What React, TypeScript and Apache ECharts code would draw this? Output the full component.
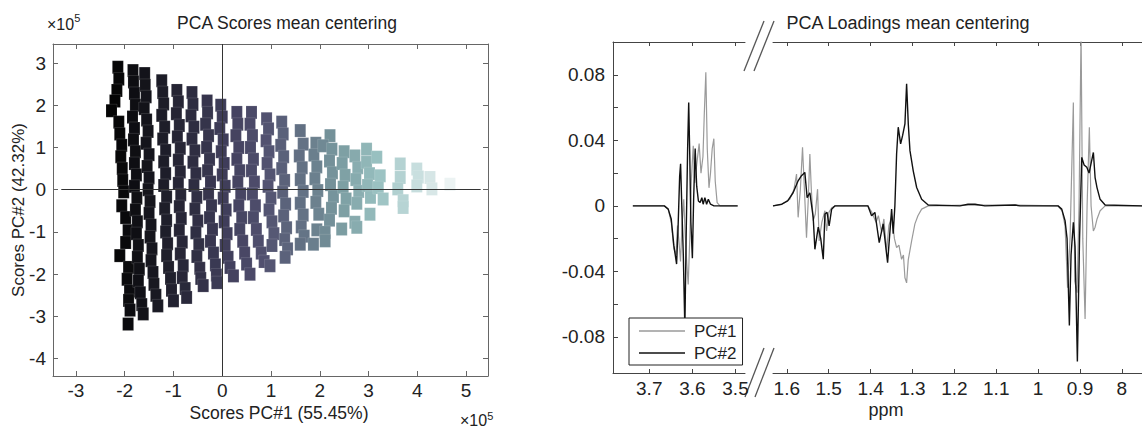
import React, { useEffect, useRef } from 'react';
import * as echarts from 'echarts';

const FONT = "'Liberation Sans', Arial, Helvetica, sans-serif";

// ---- tick values ----
const scoreXTicks = [-3, -2, -1, 0, 1, 2, 3, 4, 5];
const scoreYTicks = [-4, -3, -2, -1, 0, 1, 2, 3];
const ppmTicksLeft = [3.5, 3.6, 3.7];
const ppmTicksRight = [0.8, 0.9, 1.0, 1.1, 1.2, 1.3, 1.4, 1.5, 1.6];
const loadingTicks = [-0.08, -0.06, -0.04, -0.02, 0, 0.02, 0.04, 0.06, 0.08];
const loadingLabels = [-0.08, -0.04, 0, 0.04, 0.08];

// ---- PCA scores (x1e5) ----
const scoresBlack = [
  [-2.14, 2.9], [-2.12, 2.62], [-2.16, 2.35], [-2.2, 2.1], [-2.27, 1.87], [-2.12, 1.6], [-2.1, 1.32], [-2.06, 1.05],
  [-2.08, 0.78], [-2.05, 0.5], [-2.04, 0.22], [-2.02, -0.05], [-2.06, -0.38], [-1.98, -0.66], [-1.93, -0.97],
  [-1.98, -1.25], [-2.1, -1.56], [-1.92, -1.84], [-1.95, -2.12], [-1.9, -2.4], [-1.92, -2.62], [-1.89, -2.85], [-1.93, -3.18],
  [-1.83, 2.82], [-1.82, 2.55], [-1.8, 2.28], [-1.78, 2.0], [-1.84, 1.72], [-1.8, 1.45], [-1.82, 1.18], [-1.78, 0.9],
  [-1.8, 0.62], [-1.76, 0.35], [-1.8, 0.08], [-1.75, -0.2], [-1.78, -0.48], [-1.74, -0.76], [-1.76, -1.04],
  [-1.72, -1.32], [-1.74, -1.6], [-1.7, -1.88], [-1.72, -2.16], [-1.68, -2.44], [-1.65, -2.72], [-1.62, -2.94],
  [-1.59, 2.75], [-1.58, 2.47], [-1.56, 2.2], [-1.6, 1.92], [-1.55, 1.65], [-1.52, 1.38], [-1.56, 1.1], [-1.5, 0.83],
  [-1.54, 0.55], [-1.5, 0.28], [-1.52, 0.0], [-1.48, -0.28], [-1.5, -0.56], [-1.46, -0.84], [-1.48, -1.12],
  [-1.44, -1.4], [-1.46, -1.68], [-1.42, -1.96], [-1.4, -2.24], [-1.36, -2.5], [-1.32, -2.75],
  [-1.24, 2.58], [-1.22, 2.3], [-1.2, 2.03], [-1.24, 1.76], [-1.18, 1.48], [-1.22, 1.2], [-1.16, 0.93], [-1.2, 0.66],
  [-1.16, 0.38], [-1.2, 0.1], [-1.14, -0.17], [-1.18, -0.45], [-1.14, -0.73], [-1.16, -1.0], [-1.12, -1.28],
  [-1.14, -1.56], [-1.1, -1.84], [-1.06, -2.1], [-1.04, -2.38], [-1.0, -2.63],
];
const scoresDark = [
  [-0.93, 2.35], [-0.9, 2.08], [-0.94, 1.8], [-0.88, 1.52], [-0.92, 1.25], [-0.86, 0.98], [-0.9, 0.7], [-0.86, 0.42],
  [-0.9, 0.15], [-0.85, -0.12], [-0.88, -0.4], [-0.84, -0.68], [-0.88, -0.96], [-0.82, -1.24], [-0.86, -1.52],
  [-0.8, -1.8], [-0.82, -2.08], [-0.76, -2.34], [-0.73, -2.55],
  [-0.62, 2.3], [-0.6, 2.02], [-0.64, 1.75], [-0.58, 1.48], [-0.62, 1.2], [-0.56, 0.92], [-0.6, 0.65], [-0.54, 0.38],
  [-0.58, 0.1], [-0.52, -0.18], [-0.56, -0.46], [-0.5, -0.74], [-0.54, -1.02], [-0.48, -1.3], [-0.52, -1.58],
  [-0.46, -1.86], [-0.44, -2.1], [-0.39, -2.27],
  [-0.31, 2.1], [-0.3, 1.82], [-0.34, 1.55], [-0.28, 1.28], [-0.32, 1.0], [-0.26, 0.72], [-0.3, 0.45], [-0.24, 0.18],
  [-0.28, -0.1], [-0.22, -0.38], [-0.26, -0.66], [-0.2, -0.94], [-0.24, -1.22], [-0.18, -1.5], [-0.14, -1.78],
  [-0.12, -2.02], [-0.11, -2.2],
  [-0.03, 2.0], [0.0, 1.72], [-0.05, 1.45], [0.02, 1.18], [-0.02, 0.9], [0.04, 0.62], [0.0, 0.35], [0.06, 0.08],
  [0.02, -0.2], [0.08, -0.48], [0.04, -0.76], [0.1, -1.04], [0.06, -1.32], [0.12, -1.6], [0.16, -1.84], [0.23, -2.04],
];
const scoresMid = [
  [0.3, 1.83], [0.32, 1.55], [0.28, 1.28], [0.34, 1.0], [0.3, 0.72], [0.36, 0.45], [0.32, 0.18], [0.38, -0.1],
  [0.34, -0.38], [0.4, -0.66], [0.36, -0.94], [0.42, -1.22], [0.46, -1.5], [0.5, -1.76], [0.57, -2.0],
  [0.6, 1.83], [0.57, 1.55], [0.62, 1.28], [0.58, 1.0], [0.64, 0.72], [0.6, 0.45], [0.66, 0.18], [0.62, -0.1],
  [0.68, -0.38], [0.64, -0.66], [0.7, -0.94], [0.74, -1.22], [0.8, -1.5], [0.86, -1.7],
  [0.91, 1.68], [0.95, 1.44], [0.9, 1.16], [0.96, 0.9], [0.92, 0.62], [0.98, 0.35], [0.94, 0.08], [1.0, -0.2],
  [0.96, -0.48], [1.02, -0.76], [1.06, -1.04], [1.02, -1.32], [0.98, -1.8],
  [1.22, 1.6], [1.25, 1.32], [1.2, 1.05], [1.26, 0.78], [1.22, 0.5], [1.28, 0.22], [1.24, -0.06], [1.3, -0.34],
  [1.26, -0.62], [1.32, -0.9], [1.28, -1.18], [1.34, -1.4], [1.29, -1.6],
  [1.6, 1.4], [1.66, 1.08], [1.58, 0.8], [1.64, 0.52], [1.6, 0.24], [1.66, -0.04], [1.6, -0.32], [1.66, -0.6],
  [1.62, -0.88], [1.68, -1.1], [1.6, -1.29],
  [1.92, 1.1], [1.88, 0.82], [1.94, 0.54], [1.9, 0.26], [1.96, -0.02], [1.92, -0.3], [1.98, -0.58], [1.94, -0.95], [1.87, -1.29],
];
const scoresLight = [
  [2.21, 1.28], [2.07, 1.04], [2.25, 0.96], [2.2, 0.68], [2.26, 0.4], [2.22, 0.12], [2.28, -0.16], [2.24, -0.44],
  [2.2, -0.72], [2.11, -1.01], [2.11, -1.21],
  [2.5, 0.9], [2.46, 0.62], [2.52, 0.34], [2.48, 0.06], [2.54, -0.22], [2.5, -0.5], [2.45, -0.93],
  [2.72, 0.8], [2.78, 0.52], [2.74, 0.24], [2.8, -0.04], [2.76, -0.32], [2.72, -0.77], [2.76, -0.89],
  [2.96, 0.96], [2.96, 0.65], [3.02, 0.38], [2.98, 0.1], [3.04, -0.18], [3.03, -0.58],
  [3.17, 0.77], [3.24, 0.33], [3.2, 0.05], [3.3, -0.22],
  [3.65, 0.61], [3.65, 0.29], [3.6, 0.02], [3.71, -0.26], [3.71, -0.42],
  [3.99, 0.49], [4.02, 0.3], [3.99, 0.09],
  [4.26, 0.29], [4.3, 0.02],
  [4.67, 0.13],
];

// ---- PCA loadings [ppm, loading] ----
const pc1Left = [
  [3.738, 0], [3.665, 0], [3.656, -0.002], [3.649, -0.01], [3.643, -0.026], [3.638, -0.03], [3.6345, -0.012],
  [3.631, -0.022], [3.6275, -0.034], [3.624, -0.012], [3.62, 0.004], [3.617, -0.015], [3.613, -0.035],
  [3.6097, -0.048], [3.606, -0.02], [3.6025, 0.015], [3.598, 0.0367], [3.5945, 0.014], [3.59, 0.025],
  [3.5843, 0.038], [3.58, 0.02], [3.5755, 0.03], [3.5725, 0.055], [3.5688, 0.0816], [3.5655, 0.035],
  [3.5615, 0.011], [3.558, 0.02], [3.554, 0.035], [3.5502, 0.041], [3.547, 0.015], [3.5426, 0.002],
  [3.536, 0], [3.495, 0],
];
const pc2Left = [
  [3.738, 0], [3.665, 0], [3.656, -0.002], [3.649, -0.008], [3.643, -0.024], [3.6366, -0.0355], [3.633, -0.012],
  [3.6295, 0.018], [3.6273, 0.0257], [3.624, -0.005], [3.621, -0.03], [3.6174, -0.075], [3.6145, -0.02],
  [3.611, 0.035], [3.6085, 0.063], [3.606, 0.03], [3.6035, -0.01], [3.6, -0.032], [3.597, 0.005],
  [3.5935, 0.035], [3.59, 0.012], [3.586, 0.003], [3.582, 0.002], [3.578, 0.005], [3.575, 0.001],
  [3.571, 0.005], [3.567, 0.001], [3.563, 0.004], [3.558, 0.001], [3.55, 0], [3.495, 0],
];
const pc1Right = [
  [1.633, 0], [1.612, 0.001], [1.593, 0.004], [1.583, 0.01], [1.5768, 0.0194], [1.573, -0.007], [1.5677, 0.01],
  [1.5625, 0.0357], [1.558, 0.01], [1.553, -0.0194], [1.5486, 0.005], [1.545, 0.0316], [1.5415, 0.01],
  [1.537, -0.009], [1.532, -0.005], [1.5266, 0.0102], [1.5228, -0.0214], [1.5164, -0.01], [1.509, -0.003],
  [1.5051, -0.0153], [1.4996, -0.004], [1.4925, -0.001], [1.483, 0], [1.4065, 0], [1.397, -0.004],
  [1.387, -0.01], [1.3814, -0.006], [1.3737, -0.016], [1.3682, -0.008], [1.3618, -0.0275], [1.3563, -0.012],
  [1.349, -0.006], [1.3431, -0.02], [1.3379, -0.0255], [1.3324, -0.024], [1.326, -0.0326], [1.3216, -0.03],
  [1.318, -0.0439], [1.314, -0.047], [1.3101, -0.033], [1.302, -0.0214], [1.2942, -0.011], [1.287, -0.006],
  [1.2781, -0.002], [1.2624, 0], [1.17, 0.0005], [1.06, 0.0005], [0.9525, 0], [0.9429, -0.003],
  [0.9357, -0.012], [0.9298, -0.05], [0.9238, -0.02], [0.9159, 0.063], [0.9126, -0.046], [0.907, -0.053],
  [0.9023, 0.0], [0.8975, 0.105], [0.8934, -0.02], [0.8879, -0.069], [0.8831, 0.0], [0.8777, 0.048],
  [0.8736, 0.0], [0.8681, -0.0153], [0.864, -0.013], [0.8593, -0.008], [0.852, -0.003], [0.84, 0], [0.752, 0],
];
const pc2Right = [
  [1.633, 0], [1.612, 0.001], [1.598, 0.003], [1.585, 0.008], [1.573, 0.0153], [1.565, 0.0184], [1.557, 0.0204],
  [1.5515, 0.005], [1.545, 0.008], [1.537, -0.007], [1.533, -0.0265], [1.525, -0.013], [1.519, -0.02],
  [1.513, -0.0326], [1.509, -0.005], [1.504, -0.004], [1.499, -0.0122], [1.493, -0.002], [1.485, 0],
  [1.4065, 0], [1.3976, -0.006], [1.3897, -0.004], [1.3794, -0.0224], [1.37, -0.011], [1.3594, -0.0347],
  [1.3498, -0.002], [1.346, -0.017], [1.342, 0.0], [1.3379, 0.0316], [1.334, 0.048], [1.3283, 0.0378],
  [1.3235, 0.043], [1.318, 0.05], [1.314, 0.0745], [1.31, 0.05], [1.306, 0.0337], [1.2982, 0.0214],
  [1.29, 0.0112], [1.2781, 0.004], [1.2624, 0.0005], [1.1866, 0], [1.1675, 0.001], [1.1508, 0.001],
  [1.127, 0], [1.0552, 0.0005], [1.0432, 0], [0.9525, 0], [0.9436, -0.002], [0.9357, -0.009],
  [0.9309, -0.02], [0.9254, -0.073], [0.9214, -0.03], [0.9159, -0.01], [0.9118, -0.025], [0.9063, -0.095],
  [0.9011, -0.02], [0.8958, 0.0296], [0.8903, 0.025], [0.8838, 0.0235], [0.8784, 0.02], [0.8681, 0.0326],
  [0.864, 0.0173], [0.8593, 0.011], [0.852, 0.004], [0.84, 0.0005], [0.752, 0],
];

const scoreColors = ['#050505', '#17171f', '#2c2b3e', '#413f5c', '#51506f', '#637184', '#7a9ba0', '#98c0c0', '#c4dcdc', '#eef4f4'];

function frameAxis(color: string, extra: any) {
  return {
    type: 'value',
    axisLine: { show: true, onZero: false, lineStyle: { color, width: 1 } },
    axisTick: { show: true, inside: true, length: 5, lineStyle: { color, width: 1 } },
    splitLine: { show: false },
    ...extra,
  };
}

const tickStyle = { fontSize: 19, color: '#222', fontFamily: FONT };
const textStyle17 = { fontSize: 17, color: '#222', fontFamily: FONT };

export default function App() {
  const ref = useRef<HTMLDivElement>(null);
  useEffect(() => {
    if (!ref.current) return;
    const chart = echarts.init(ref.current, undefined, { renderer: 'svg' });
    const scores = [...scoresBlack, ...scoresDark, ...scoresMid, ...scoresLight];
    const fmtPpm = (v: number) => {
      const r = Math.round(v * 10) / 10;
      if (Math.abs(r - 0.8) < 1e-6) return '8';
      if (Math.abs(r - 1) < 1e-6) return '1';
      return r.toFixed(1);
    };
    const fmtLoad = (v: number) => (Math.abs(v) < 1e-9 ? '0' : v.toFixed(2));
    const L = '#666';
    const R = '#444';
    const option: any = {
      animation: false,
      backgroundColor: '#fff',
      grid: [
        { left: 53, top: 44, width: 435, height: 332 },
        { left: 613, top: 42, width: 132, height: 331 },
        { left: 773, top: 42, width: 369, height: 331 },
      ],
      xAxis: [
        frameAxis(L, {
          gridIndex: 0, min: -3.47, max: 5.45, position: 'bottom',
          axisTick: { show: true, inside: true, length: 5, customValues: scoreXTicks, lineStyle: { color: L } },
          axisLabel: { ...tickStyle, margin: 5, customValues: scoreXTicks },
        }),
        frameAxis(L, {
          gridIndex: 0, min: -3.47, max: 5.45, position: 'top',
          axisTick: { show: true, inside: true, length: 5, customValues: scoreXTicks, lineStyle: { color: L } },
          axisLabel: { show: false },
        }),
        frameAxis(R, {
          gridIndex: 1, min: 3.478, max: 3.784, inverse: true, position: 'bottom',
          axisTick: { show: true, inside: true, length: 4, customValues: ppmTicksLeft, lineStyle: { color: R } },
          axisLabel: { ...tickStyle, margin: 6, customValues: ppmTicksLeft, formatter: fmtPpm },
        }),
        frameAxis(R, {
          gridIndex: 1, min: 3.478, max: 3.784, inverse: true, position: 'top',
          axisTick: { show: true, inside: true, length: 4, customValues: ppmTicksLeft, lineStyle: { color: R } },
          axisLabel: { show: false },
        }),
        frameAxis(R, {
          gridIndex: 2, min: 0.752, max: 1.633, inverse: true, position: 'bottom',
          axisTick: { show: true, inside: true, length: 4, customValues: ppmTicksRight, lineStyle: { color: R } },
          axisLabel: { ...tickStyle, margin: 6, customValues: ppmTicksRight, formatter: fmtPpm },
        }),
        frameAxis(R, {
          gridIndex: 2, min: 0.752, max: 1.633, inverse: true, position: 'top',
          axisTick: { show: true, inside: true, length: 4, customValues: ppmTicksRight, lineStyle: { color: R } },
          axisLabel: { show: false },
        }),
      ],
      yAxis: [
        frameAxis(L, {
          gridIndex: 0, min: -4.41, max: 3.45, position: 'left',
          axisTick: { show: true, inside: true, length: 5, customValues: scoreYTicks, lineStyle: { color: L } },
          axisLabel: { ...tickStyle, margin: 7, customValues: scoreYTicks },
        }),
        frameAxis(L, {
          gridIndex: 0, min: -4.41, max: 3.45, position: 'right',
          axisTick: { show: true, inside: true, length: 5, customValues: scoreYTicks, lineStyle: { color: L } },
          axisLabel: { show: false },
        }),
        frameAxis(R, {
          gridIndex: 1, min: -0.102, max: 0.1, position: 'left',
          axisTick: { show: true, inside: true, length: 5, customValues: loadingTicks, lineStyle: { color: R } },
          axisLabel: { ...tickStyle, margin: 8, customValues: loadingLabels, formatter: fmtLoad },
        }),
        { type: 'value', gridIndex: 2, min: -0.102, max: 0.1, show: false },
      ],
      visualMap: {
        type: 'continuous', show: false, seriesIndex: 0, dimension: 0,
        min: -2.2, max: 4.7, inRange: { color: scoreColors },
      },
      legend: {
        data: ['PC#1', 'PC#2'],
        orient: 'vertical',
        left: 629, top: 318,
        icon: 'rect',
        itemWidth: 46, itemHeight: 1.5, itemGap: 4,
        padding: [4, 6, 3, 10],
        backgroundColor: '#fff',
        borderColor: '#222', borderWidth: 1, borderRadius: 0,
        textStyle: { ...textStyle17, lineHeight: 18, padding: [0, 0, 0, 4] },
        z: 20,
      },
      series: [
        {
          type: 'scatter', xAxisIndex: 0, yAxisIndex: 0,
          symbol: 'rect', symbolSize: [11, 13],
          itemStyle: { borderColor: 'rgba(255,255,255,0.25)', borderWidth: 0.5, opacity: 1 },
          data: scores,
          silent: true,
          markLine: {
            silent: true, symbol: 'none', label: { show: false }, z: 10,
            lineStyle: { color: '#333', width: 1, type: 'solid' },
            emphasis: { disabled: true },
            data: [
              { xAxis: 0 },
              [{ coord: [-3.3, 0] }, { coord: [5.3, 0] }],
            ],
          },
        },
        {
          name: 'PC#1', type: 'line', xAxisIndex: 2, yAxisIndex: 2, data: pc1Left,
          symbol: 'none', lineStyle: { color: '#9a9a9a', width: 1.2 }, itemStyle: { color: '#9a9a9a' },
        },
        {
          name: 'PC#2', type: 'line', xAxisIndex: 2, yAxisIndex: 2, data: pc2Left,
          symbol: 'none', lineStyle: { color: '#111', width: 1.4 }, itemStyle: { color: '#111' },
        },
        {
          name: 'PC#1', type: 'line', xAxisIndex: 4, yAxisIndex: 3, data: pc1Right,
          symbol: 'none', lineStyle: { color: '#9a9a9a', width: 1.2 }, itemStyle: { color: '#9a9a9a' },
        },
        {
          name: 'PC#2', type: 'line', xAxisIndex: 4, yAxisIndex: 3, data: pc2Right,
          symbol: 'none', lineStyle: { color: '#111', width: 1.4 }, itemStyle: { color: '#111' },
        },
      ],
      graphic: [
        { type: 'text', x: 287, y: 23, style: { text: 'PCA Scores mean centering', font: `17.5px ${FONT}`, fill: '#222', align: 'center', verticalAlign: 'middle' } },
        { type: 'text', x: 908, y: 23, style: { text: 'PCA Loadings mean centering', font: `18px ${FONT}`, fill: '#222', align: 'center', verticalAlign: 'middle' } },
        { type: 'text', x: 279, y: 413, style: { text: 'Scores PC#1 (55.45%)', font: `17.5px ${FONT}`, fill: '#222', align: 'center', verticalAlign: 'middle' } },
        { type: 'text', x: 18, y: 210, rotation: Math.PI / 2, style: { text: 'Scores PC#2 (42.32%)', font: `17px ${FONT}`, fill: '#222', align: 'center', verticalAlign: 'middle' } },
        { type: 'text', x: 886, y: 410, style: { text: 'ppm', font: `18px ${FONT}`, fill: '#222', align: 'center', verticalAlign: 'middle' } },
        {
          type: 'text', x: 47, y: 22,
          style: {
            text: '{a|×10}{b|5}', verticalAlign: 'middle', align: 'left', fill: '#222',
            rich: { a: { fontSize: 16, fontFamily: FONT, lineHeight: 20, verticalAlign: 'bottom' }, b: { fontSize: 11, fontFamily: FONT, lineHeight: 20, verticalAlign: 'top' } },
          },
        },
        {
          type: 'text', x: 460, y: 419,
          style: {
            text: '{a|×10}{b|5}', verticalAlign: 'middle', align: 'left', fill: '#222',
            rich: { a: { fontSize: 16, fontFamily: FONT, lineHeight: 18, verticalAlign: 'bottom' }, b: { fontSize: 11, fontFamily: FONT, lineHeight: 18, verticalAlign: 'top' } },
          },
        },
        { type: 'line', shape: { x1: 744, y1: 71, x2: 764, y2: 21 }, style: { stroke: '#555', lineWidth: 1.3 } },
        { type: 'line', shape: { x1: 754, y1: 71, x2: 774, y2: 21 }, style: { stroke: '#555', lineWidth: 1.3 } },
        { type: 'line', shape: { x1: 745, y1: 397, x2: 764, y2: 348 }, style: { stroke: '#555', lineWidth: 1.3 } },
        { type: 'line', shape: { x1: 755, y1: 397, x2: 774, y2: 348 }, style: { stroke: '#555', lineWidth: 1.3 } },
      ],
    };
    chart.setOption(option);
    return () => chart.dispose();
  }, []);
  return (
    <div
      ref={ref}
      style={{ position: 'fixed', left: 0, top: 0, width: '1142px', height: '429px', background: '#fff' }}
    />
  );
}
